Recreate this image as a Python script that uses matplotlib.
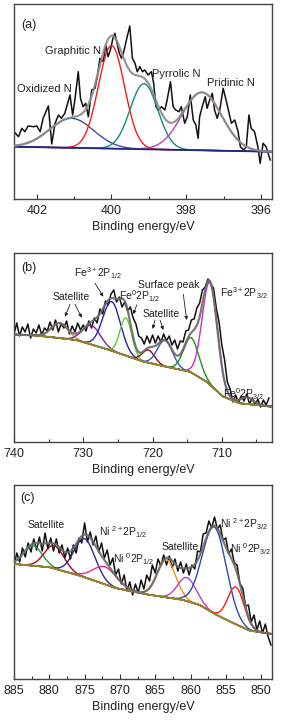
import numpy as np
import matplotlib
matplotlib.use("Agg")
import matplotlib.pyplot as plt
from matplotlib.ticker import MultipleLocator

plt.rcParams['font.family'] = ['Liberation Sans', 'DejaVu Sans']
plt.rcParams['mathtext.fontset'] = 'custom'
plt.rcParams['mathtext.rm'] = 'Liberation Sans'
plt.rcParams['mathtext.it'] = 'Liberation Sans:italic'
plt.rcParams['mathtext.bf'] = 'Liberation Sans:bold'
plt.rcParams['mathtext.default'] = 'regular'

# ---------------- Panel (a): N 1s ----------------
a_energy = [402.61, 402.49, 402.40, 402.32, 402.23, 402.09, 402.00, 401.91, 401.83, 401.69,
            401.60, 401.51, 401.42, 401.34, 401.25, 401.11, 401.04, 400.98, 400.89, 400.83,
            400.76, 400.69, 400.62, 400.53, 400.44, 400.38, 400.31, 400.22, 400.15, 400.09,
            400.03, 399.95, 399.91, 399.85, 399.79, 399.73, 399.67, 399.60, 399.51, 399.44,
            399.37, 399.31, 399.24, 399.17, 399.11, 399.02, 398.93, 398.87, 398.81, 398.75,
            398.66, 398.57, 398.51, 398.42, 398.35, 398.28, 398.19, 398.13, 398.04, 397.97,
            397.89, 397.81, 397.74, 397.68, 397.64, 397.57, 397.49, 397.44, 397.37, 397.30,
            397.24, 397.17, 397.10, 397.01, 396.92, 396.85, 396.79, 396.70, 396.61, 396.55,
            396.46, 396.39, 396.32, 396.26, 396.17, 396.08, 396.02, 395.94, 395.86, 395.75]
a_counts = [67.3, 62.3, 70.7, 67.3, 73, 72.3, 73, 67.3, 80.7, 93,
            55, 75.7, 84, 80.7, 85.7, 104, 84, 99, 127.3, 100.7,
            92.3, 95.7, 82.3, 109, 110.7, 122.3, 140.7, 137.3, 154, 142.3,
            149, 162.3, 165.7, 155.7, 145.7, 140.7, 147.3, 159, 173, 140.7,
            135.7, 127.3, 132.3, 127.3, 129, 124, 127.3, 115.7, 92.3, 89,
            92.3, 89, 99, 117.3, 92.3, 89, 87.3, 92.3, 75.7, 82.3,
            104, 79, 74, 60.7, 82.3, 92.3, 102.3, 90.7, 99, 105.7,
            89, 80.7, 89, 110.7, 97.3, 85.7, 75.7, 79, 67.3, 52.3,
            49, 52.3, 84, 70.7, 67.3, 52.3, 35.7, 55.7, 52.3, 39]
a_bg_energy = [402.61, 395.70]
a_bg_counts = [52.3, 47.3]
a_centers = [401.07, 400.00, 399.13, 397.58]
a_heights = [29.5, 103.0, 65.5, 58.0]
a_widths = [0.59, 0.35, 0.37, 0.53]
a_labels = ["Oxidized N", "Graphitic N", "Pyrrolic N", "Pridinic N"]
a_ticks = [402, 400, 398, 396]

# ---------------- Panel (b): Fe 2p ----------------
b_counts = [108, 119, 106, 115, 110, 118, 104, 113, 109, 117,
            107, 114, 111, 120, 112, 122, 110, 118, 114, 121,
            108, 116, 110, 119, 112, 117, 111, 121, 114, 124,
            119, 133, 128, 141, 137, 148, 152, 140, 145, 135,
            140, 131, 135, 124, 118, 106, 104, 98, 106, 99,
            107, 99, 106, 100, 108, 101, 106, 97, 102, 93,
            101, 100, 111, 112, 122, 123, 134, 139, 152, 155,
            163, 158, 154, 134, 120, 97, 82, 60, 53, 40,
            47, 39, 46, 41, 48, 38, 44, 37, 43, 35,
            42, 37, 44]
b_energy = np.linspace(740.0, 703.2, len(b_counts))
b_bg_energy = [740.0, 736.7, 731.0, 726.2, 721.3, 717.0, 714.6, 712.2, 709.8, 707.4, 703.0]
b_bg_counts = [107.5, 106.5, 102.0, 92.0, 80.3, 73.7, 70.3, 60.3, 45.3, 38.7, 35.5]
b_centers = [733.4, 728.8, 725.9, 723.85, 720.6, 718.2, 714.4, 711.73, 706.4]
b_heights = [15.0, 19.0, 49.0, 37.7, 12.7, 26.0, 34.7, 102.0, 7.0]
b_widths = [1.2, 1.3, 1.3, 0.85, 0.9, 1.1, 1.1, 1.1, 0.9]
b_ticks = [740, 730, 720, 710]

# ---------------- Panel (c): Ni 2p ----------------
c_counts = [113, 126, 117, 131, 122, 136, 127, 140, 129, 142,
            128, 146, 130, 141, 128, 140, 126, 134, 121, 131,
            120, 134, 126, 141, 136, 156, 137, 147, 134, 143,
            127, 136, 121, 129, 114, 121, 104, 110, 95, 104,
            88, 97, 84, 95, 86, 99, 90, 104, 98, 114,
            106, 120, 113, 124, 114, 123, 111, 120, 108, 117,
            106, 115, 104, 114, 110, 128, 127, 145, 146, 158,
            151, 162, 150, 154, 139, 141, 125, 130, 116, 114,
            95, 91, 73, 74, 57, 64, 49, 58, 46, 55,
            42, 34]
c_energy = np.linspace(885.0, 848.6, len(c_counts))
c_bg_energy = [885.0, 879.9, 875.2, 870.5, 865.7, 861.0, 858.7, 856.3, 853.9, 851.6, 848.5]
c_bg_counts = [115.0, 111.7, 102.3, 90.7, 84.0, 79.0, 74.0, 64.0, 55.7, 48.3, 45.0]
c_centers = [882.3, 879.3, 875.0, 872.1, 863.4, 860.5, 856.6, 853.55]
c_heights = [20.0, 22.7, 38.4, 17.4, 37.7, 23.4, 86.6, 37.3]
c_widths = [1.3, 1.4, 1.5, 1.7, 1.3, 1.3, 1.7, 1.15]
c_ticks = [885, 880, 875, 870, 865, 860, 855, 850]

# ---------------- styling ----------------
a_colors = ['#3a4fb0', '#ff1a1a', '#138a80', '#b346b3']
b_colors = ['#f08a24', '#8a1fa0', '#2323b0', '#5ad12a', '#8b1010',
            '#2f5bc0', '#1a8f2a', '#d030d0', '#e02020']
c_colors = ['#2a9a3a', '#9a1020', '#2a2a90', '#ff2090', '#ff8c1a',
            '#c040c0', '#2a4ab0', '#ff1a1a']

W, H = 284, 720
fig = plt.figure(figsize=(W / 100, H / 100), dpi=100)


def fpx(px, py):
    return px / W, 1 - py / H


def gauss(e, c, h, s):
    return h * np.exp(-0.5 * ((e - c) / s) ** 2)


def panel(rect_px, xlim, ylim, energy, counts, bg_e, bg_c, centers, heights, widths,
          colors, bg_color, env_color, ticks, minor, data_lw=1.1):
    l, t, r, b = rect_px
    ax = fig.add_axes([l / W, 1 - b / H, (r - l) / W, (b - t) / H])
    ef = np.linspace(xlim[1], xlim[0], 800)
    bg = np.interp(ef, bg_e[::-1], bg_c[::-1])
    ax.plot(energy, counts, color='#111111', lw=data_lw, zorder=2)
    total = bg.copy()
    for c, h, s, col in zip(centers, heights, widths, colors):
        g = gauss(ef, c, h, s)
        total += g
        ax.plot(ef, bg + g, color=col, lw=1.0, zorder=3)
    ax.plot(ef, bg, color=bg_color, lw=1.3, zorder=4)
    ax.plot(ef, total, color=env_color, lw=1.6, zorder=5, alpha=0.9)
    ax.set_xlim(xlim)
    ax.set_ylim(ylim)
    ax.set_xticks(ticks)
    ax.set_xticklabels([str(v) for v in ticks])
    ax.xaxis.set_minor_locator(MultipleLocator(minor))
    ax.set_yticks([])
    ax.tick_params(axis='x', which='major', direction='in', length=3.5, width=0.8,
                   labelsize=9, pad=4, colors='#333333', labelcolor='#222222')
    ax.tick_params(axis='x', which='minor', direction='in', length=2.2, width=0.8,
                   colors='#333333')
    for sp in ax.spines.values():
        sp.set_color('#444444')
        sp.set_linewidth(1.0)
    ax.set_xlabel('Binding energy/eV', fontsize=9, color='#222222', labelpad=3)
    return ax


ax_a = panel((14, 4, 271.7, 199), (402.61, 395.71), (0, 195), a_energy, a_counts,
             a_bg_energy, a_bg_counts, a_centers, a_heights, a_widths, a_colors,
             '#1f2a80', '#8c8c8c', a_ticks, 1)
ax_b = panel((14, 253, 271.7, 442), (740, 702.8), (0, 189), b_energy, b_counts,
             b_bg_energy, b_bg_counts, b_centers, b_heights, b_widths, b_colors,
             '#8c8c2a', '#6a6a6a', b_ticks, 5)
ax_c = panel((14, 485, 271.7, 679), (885, 848.5), (0, 194), c_energy, c_counts,
             c_bg_energy, c_bg_counts, c_centers, c_heights, c_widths, c_colors,
             '#8c8c2a', '#6a6a6a', c_ticks, 2.5)


def label(px, py, s, size=7.5):
    x, y = fpx(px, py)
    fig.text(x, y, s, fontsize=size, color='#222222', ha='left', va='baseline')


# panel letters
label(21, 28, '(a)', 9)
label(21, 271, '(b)', 9)
label(20, 501, '(c)', 9)

# panel (a) labels
label(45, 53.5, a_labels[1], 8)
label(17, 92.5, a_labels[0], 8)
label(152.5, 77, a_labels[2], 8)
label(207, 85.5, a_labels[3], 8)

# panel (b) labels
label(53, 300.5, 'Satellite')
label(74, 277, r'Fe$^{3+}$2P$_{1/2}$')
label(119, 300.5, r'Fe$^{0}$2P$_{1/2}$')
label(138, 288, 'Surface peak')
label(143, 317, 'Satellite')
label(220, 297, r'Fe$^{3+}$2P$_{3/2}$')
label(223, 398.5, r'Fe$^{0}$2P$_{3/2}$')

# panel (c) labels
label(28, 527.5, 'Satellite')
label(99, 536.5, r'Ni $^{2+}$2P$_{1/2}$')
label(113, 563.5, r'Ni $^{0}$2P$_{1/2}$')
label(162, 550.5, 'Satellite')
label(220, 528.5, r'Ni $^{2+}$2P$_{3/2}$')
label(230, 553.5, r'Ni $^{0}$2P$_{3/2}$')

# arrows in panel (b)
arrows = [((70, 304.3), (65, 316.7)), ((75, 304.3), (81.7, 317.7)),
          ((95, 283.3), (103.3, 296.7)), ((136.7, 305), (133.3, 314.3)),
          ((183.3, 294.3), (186.7, 320)), ((155, 320), (152.7, 329)),
          ((160, 320), (163.3, 330))]
for (p0, p1) in arrows:
    fig.add_artist(matplotlib.patches.FancyArrowPatch(
        fpx(*p0), fpx(*p1), transform=fig.transFigure, arrowstyle='-|>',
        mutation_scale=5, lw=0.6, color='#222222', shrinkA=0, shrinkB=0))

fig.savefig('out.png', dpi=100)
